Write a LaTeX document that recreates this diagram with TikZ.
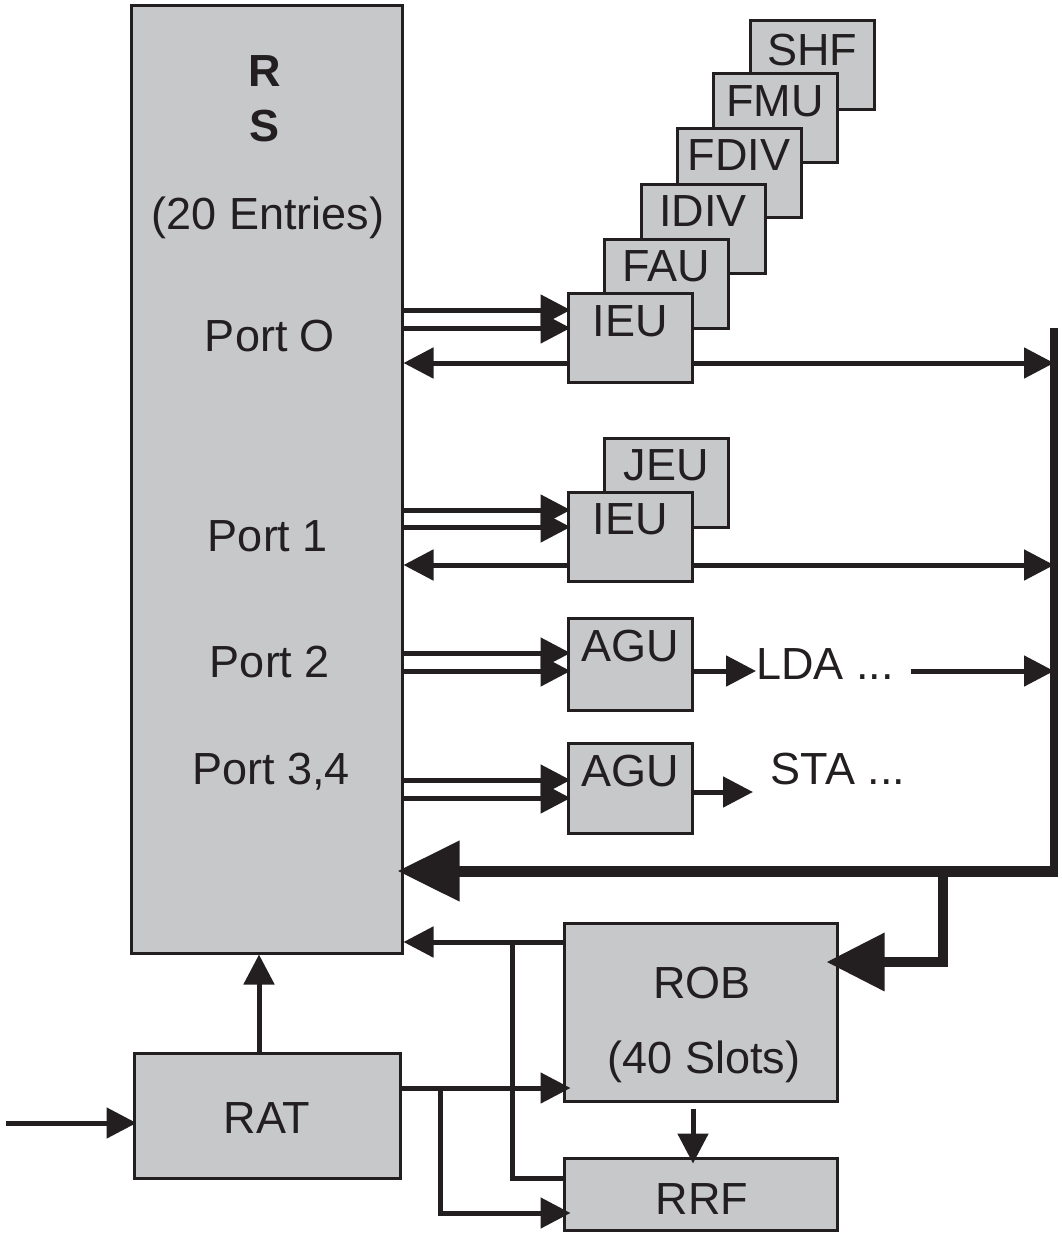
\documentclass[tikz,border=0pt]{standalone}
\usepackage{fontspec}
\setmainfont{Liberation Sans}
\usetikzlibrary{arrows.meta}
\definecolor{boxgray}{HTML}{C7C8CA}
\definecolor{ink}{HTML}{231F20}
\begin{document}
\begin{tikzpicture}[x=1pt,y=-1pt,
  fu/.style={draw=ink,fill=boxgray,line width=3pt,inner sep=0pt,minimum width=124pt,minimum height=89pt},
  blk/.style={draw=ink,fill=boxgray,line width=3pt,inner sep=0pt},
  lbl/.style={font=\fontsize{45}{50}\selectfont,text=ink,inner sep=0pt,anchor=base},
  ln/.style={draw=ink,line width=5pt},
  arr/.style={ln,-{Triangle[length=30pt,width=30pt]}},
  bigarr/.style={draw=ink,line width=11pt,-{Triangle[length=62pt,width=58pt]}}]
\useasboundingbox (0,0) rectangle (1062,1235);
% Reservation station
\node[blk,minimum width=271pt,minimum height=948pt] (RS) at (266.5,479) {};
\node[lbl,font=\fontsize{45}{50}\selectfont\bfseries] (tR) at (265,86) {R};
\node[lbl,font=\fontsize{45}{50}\selectfont\bfseries] (tS) at (265,141) {S};
\node[lbl] (tE) at (268,229) {(20 Entries)};
\node[lbl] (tP0) at (270,351) {Port O};
\node[lbl] (tP1) at (268,551) {Port 1};
\node[lbl] (tP2) at (270,677) {Port 2};
\node[lbl] (tP3) at (271,784) {Port 3,4};
% stacked units of port 0
\node[fu] (SHF) at (812,64.5) {};   \node[lbl] (tSHF) at (812,65) {SHF};
\node[fu] (FMU) at (775,117.5) {};  \node[lbl] (tFMU) at (775,116) {FMU};
\node[fu] (FDIV) at (739,172.5) {}; \node[lbl] (tFDIV) at (739,170) {FDIV};
\node[fu] (IDIV) at (703,228.5) {}; \node[lbl] (tIDIV) at (703,226) {IDIV};
\node[fu] (FAU) at (666,283.5) {};  \node[lbl] (tFAU) at (666,281) {FAU};
\node[fu] (IEUa) at (630,337.5) {}; \node[lbl] (tIEUa) at (630,336) {IEU};
% port 1
\node[fu] (JEU) at (666,482.5) {};  \node[lbl] (tJEU) at (666,480) {JEU};
\node[fu] (IEUb) at (630,537) {};   \node[lbl] (tIEUb) at (630,534) {IEU};
% port 2, 3/4
\node[fu,minimum height=92pt] (AGUa) at (630,664) {}; \node[lbl] (tAGUa) at (630,661) {AGU};
\node[fu,minimum height=90pt] (AGUb) at (630,788) {}; \node[lbl] (tAGUb) at (630,786) {AGU};
\node[lbl] (LDA) at (825,679) {LDA ...};
\node[lbl] (STA) at (838,784) {STA ...};
% ROB, RRF, RAT
\node[blk,minimum width=273pt,minimum height=178pt] (ROB) at (700.5,1012) {};
\node[lbl] (tROB) at (702,998) {ROB};
\node[lbl] (tSlots) at (704,1073) {(40 Slots)};
\node[blk,minimum width=273pt,minimum height=72pt] (RRF) at (700.5,1194) {};
\node[lbl] (tRRF) at (702,1214) {RRF};
\node[blk,minimum width=266pt,minimum height=125pt] (RAT) at (267,1115.5) {};
\node[lbl] (tRAT) at (267,1133) {RAT};
% bus
\coordinate (busTop) at (1054,328);
\coordinate (busBot) at (1054,876);
\coordinate (in) at (6,1123);
\coordinate (brk) at (943,871);
\draw[draw=ink,line width=8pt] (busTop) -- (busBot);
% port 0
\draw[arr,shorten >=-4pt] (RS.east |- 0,310) -- (IEUa.west |- 0,310);
\draw[arr,shorten >=-4pt] (RS.east |- 0,328) -- (IEUa.west |- 0,328);
\draw[arr] (IEUa.west |- 0,363) -- (RS.east |- 0,363);
\draw[arr] (IEUa.east |- 0,363) -- (busTop |- 0,363);
% port 1
\draw[arr,shorten >=-4pt] (RS.east |- 0,510) -- (IEUb.west |- 0,510);
\draw[arr,shorten >=-4pt] (RS.east |- 0,527) -- (IEUb.west |- 0,527);
\draw[arr] (IEUb.west |- 0,565) -- (RS.east |- 0,565);
\draw[arr] (IEUb.east |- 0,565) -- (busTop |- 0,565);
% port 2
\draw[arr,shorten >=-4pt] (RS.east |- 0,653) -- (AGUa.west |- 0,653);
\draw[arr,shorten >=-4pt] (RS.east |- 0,671) -- (AGUa.west |- 0,671);
\draw[arr] (AGUa.east |- 0,671) -- (LDA.west |- 0,671);
\draw[arr] (911,671) -- (busTop |- 0,671);
% port 3,4
\draw[arr,shorten >=-4pt] (RS.east |- 0,780) -- (AGUb.west |- 0,780);
\draw[arr,shorten >=-4pt] (RS.east |- 0,798) -- (AGUb.west |- 0,798);
\draw[arr] (AGUb.east |- 0,792) -- (753,792);
% write-back bus
\draw[bigarr,shorten >=-6pt] (1058,871) -- (RS.east |- 0,871);
\draw[draw=ink,line width=10pt,-{Triangle[length=58pt,width=56pt]},shorten >=-12pt]
  (brk) -- (943,962) -- (ROB.east |- 0,962);
% ROB / RRF to RS
\draw[arr] (ROB.west |- 0,942) -- (RS.east |- 0,942);
\draw[ln] (RRF.west |- 0,1178) -- (512,1178) -- (512,942);
% RAT outputs
\draw[arr,shorten >=-8pt] (RAT.east |- 0,1088) -- (ROB.west |- 0,1088);
\draw[arr,shorten >=-8pt] (440,1088) -- (440,1213) -- (RRF.west |- 0,1213);
\draw[arr,shorten <=6pt,shorten >=-7pt] (ROB.south -| 693,0) -- (RRF.north -| 693,0);
\draw[arr] (RAT.north -| 259,0) -- (RS.south -| 259,0);
\draw[arr,shorten >=-4pt] (in) -- (RAT.west |- in);
\end{tikzpicture}
\end{document}
